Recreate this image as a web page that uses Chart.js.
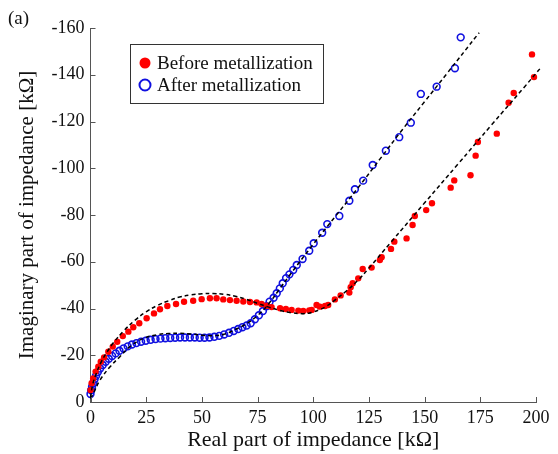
<!DOCTYPE html>
<html>
<head>
<meta charset="utf-8">
<script src="https://cdn.jsdelivr.net/npm/chart.js@4.4.1/dist/chart.umd.min.js"></script>
<style>
  body { margin: 0; background: #fff; }
  #wrap { width: 558px; height: 454px; position: relative; }
</style>
</head>
<body>
<div id="wrap"><canvas id="nyquist"></canvas></div>
<script>
// Nyquist plot, impedance in kOhm (y stored as -Z'' so it grows upward)
const beforeX = [0, 0.5, 1.2, 2.3, 3.5, 4.6, 6.1, 8, 10, 12, 14.5, 17, 19.2, 21.9, 25.2, 28.5, 31.2, 34.5, 38.4, 42,
  46.1, 49.9, 53.6, 56.6, 59.6, 62.6, 65.6, 68.6, 71.6, 74.6, 76.8, 79.1, 81.3, 85.1, 87.7, 90.3, 93.3, 95.5, 98.2, 99.3,
  101.5, 103, 105.3, 106.7, 109.7, 112.3, 116.2, 116.8, 117.7, 120.2, 122.2, 126.2, 129.9, 130.7, 134.9, 136.4, 141.9, 144.6, 145.6, 150.7,
  153.3, 161.7, 163.3, 170.6, 172.9, 173.9, 182.4, 187.7, 190, 199.1, 198.2];
const beforeY = [5.1, 8, 10.1, 13, 15.1, 17.2, 19.1, 21.5, 23.7, 25.8, 28.2, 30.1, 32, 33.7, 35.8, 37.9, 39.7, 41.1, 41.9, 42.9,
  43.3, 44, 44.4, 44.4, 43.9, 43.6, 43.3, 43, 42.8, 42.6, 41.9, 41.2, 40.6, 40.1, 39.8, 39.4, 39.1, 38.9, 39.2, 39.4,
  41.5, 40.8, 41.1, 41.5, 43.9, 45.6, 46.8, 49.1, 50.8, 52.9, 56.9, 57.5, 60.7, 61.9, 65.5, 68.6, 70, 75.7, 79.6, 82.1,
  85, 91.7, 94.8, 97, 105.4, 111.2, 114.8, 128, 132.2, 139, 148.7];

const afterX = [0, 0.3, 0.7, 1.2, 1.8, 2.5, 3.3, 4.3, 5.5, 6.8, 8.2, 9.7, 11.3, 13, 14.8, 16.7, 18.6, 20.6, 22.7, 24.8,
  27, 29.2, 31.4, 33.6, 35.8, 38, 40.2, 42.4, 44.6, 46.8, 49, 51.2, 53.4, 55.6, 57.8, 60, 62.2, 64.3, 66.3, 68.2,
  70.1, 71.9, 73.8, 75.6, 77.4, 79, 80.4, 82.2, 83.6, 85, 86.3, 87.8, 89.3, 91, 92.6, 95.2, 98.2, 100.2, 104, 106.3,
  111.7, 116.2, 118.7, 122.4, 126.7, 132.6, 138.6, 143.8, 148.3, 155.4, 163.6, 166.2];
const afterY = [3.4, 5, 6.5, 8, 9.6, 11.2, 12.8, 14.3, 15.8, 17.2, 18.5, 19.7, 20.8, 21.9, 22.9, 23.8, 24.6, 25.2, 25.8, 26.2,
  26.6, 26.9, 27.1, 27.3, 27.4, 27.5, 27.6, 27.6, 27.6, 27.6, 27.5, 27.5, 27.6, 27.9, 28.3, 28.9, 29.6, 30.4, 31.2, 32,
  32.7, 33.7, 35.4, 37.1, 38.9, 41, 42.9, 44.6, 46.5, 48.6, 50.8, 53, 54.6, 56.5, 58.6, 61.2, 64.7, 67.9, 72.4, 76.1,
  79.6, 86.1, 91, 94.7, 101.4, 107.5, 113.3, 119.5, 131.8, 134.9, 142.8, 156];

// fitted curves (dashed)
const beforeFitX = [0, 1, 2.5, 5, 7.5, 10, 15, 20, 25, 30, 35, 40, 45, 50, 55, 60, 65, 70, 75, 80,
  85, 90, 95, 98, 100, 103, 106, 110, 115, 120, 125, 135, 150, 165, 180, 195, 202.5];
const beforeFitY = [2, 7.5, 12, 17.5, 21.5, 25, 30.5, 35, 38.6, 41.3, 43.3, 44.9, 45.8, 46.3, 46.4, 46.1, 45.2, 43.9, 42.2, 40.6,
  39.2, 38.2, 37.8, 38, 38.5, 39.6, 41, 43.8, 47.6, 52, 57.3, 68.5, 85.2, 101.8, 118.5, 135, 143.4];
const afterFitX = [0, 1.3, 4.3, 8.8, 13.2, 17.7, 23.7, 30, 35, 40, 45, 50, 55, 60, 65, 70, 75, 80, 85, 90,
  100, 110, 120, 130, 140, 150, 160, 174.5];
const afterFitY = [1.5, 3.7, 9.4, 15.1, 19.4, 23.7, 27.2, 28.8, 29.3, 29.4, 29.1, 28.6, 28.4, 29, 31, 33.5, 37, 42, 48.5, 55,
  67.5, 79.5, 91.5, 104, 116.5, 128.5, 140.5, 158];

const seriesNames = ['Before metallization', 'After metallization'];

const pts = (xs, ys) => xs.map((x, i) => ({ x: x, y: ys[i] }));

// short tick marks pointing into the plot, as in the original figure
const insideTicks = {
  id: 'insideTicks',
  afterDatasetsDraw(chart) {
    const ctx = chart.ctx, a = chart.chartArea;
    const xs = chart.scales.x, ys = chart.scales.y;
    ctx.save();
    ctx.strokeStyle = '#555';
    ctx.lineWidth = 1;
    ctx.beginPath();
    xs.ticks.forEach(t => {
      const px = Math.round(xs.getPixelForValue(t.value)) + 0.5;
      ctx.moveTo(px, a.bottom);
      ctx.lineTo(px, a.bottom - 5);
    });
    ys.ticks.forEach(t => {
      const py = Math.round(ys.getPixelForValue(t.value)) + 0.5;
      ctx.moveTo(a.left, py);
      ctx.lineTo(a.left + 5, py);
    });
    ctx.stroke();
    ctx.restore();
  }
};

// boxed legend inside the plot + panel letter
const boxLegend = {
  id: 'boxLegend',
  afterDraw(chart) {
    const ctx = chart.ctx;
    const ds = chart.data.datasets;
    ctx.save();
    ctx.fillStyle = '#fff';
    ctx.fillRect(130, 44, 193, 59);
    ctx.strokeStyle = '#333';
    ctx.lineWidth = 1;
    ctx.strokeRect(130.5, 44.5, 193, 59);
    ctx.font = '19px "Liberation Serif", "Times New Roman", serif';
    ctx.textBaseline = 'middle';
    const rows = [63, 85];
    [0, 1].forEach(i => {
      const d = ds[i];
      ctx.beginPath();
      ctx.arc(145, rows[i], 5.5, 0, Math.PI * 2);
      if (i === 0) {
        ctx.fillStyle = d.backgroundColor;
        ctx.fill();
      } else {
        ctx.strokeStyle = d.borderColor;
        ctx.lineWidth = 2;
        ctx.stroke();
      }
      ctx.fillStyle = '#111';
      ctx.fillText(d.label, 157, rows[i] + 1);
    });
    ctx.font = '19px "Liberation Serif", "Times New Roman", serif';
    ctx.fillText('(a)', 8, 19);
    ctx.restore();
  }
};

new Chart(document.getElementById('nyquist').getContext('2d'), {
  type: 'scatter',
  data: {
    datasets: [
      {
        label: seriesNames[0],
        data: pts(beforeX, beforeY),
        backgroundColor: '#ff0000',
        borderColor: '#ff0000',
        pointRadius: 3.2,
        borderWidth: 0,
        clip: false,
        order: 2
      },
      {
        label: seriesNames[1],
        data: pts(afterX, afterY),
        backgroundColor: 'rgba(0,0,0,0)',
        borderColor: '#1010e0',
        pointRadius: 3.4,
        borderWidth: 1.6,
        clip: false,
        order: 3
      },
      {
        label: 'fit before',
        data: pts(beforeFitX, beforeFitY),
        showLine: true,
        borderColor: '#000',
        borderWidth: 1.5,
        borderDash: [4, 3],
        pointRadius: 0,
        tension: 0.4,
        clip: false,
        order: 1
      },
      {
        label: 'fit after',
        data: pts(afterFitX, afterFitY),
        showLine: true,
        borderColor: '#000',
        borderWidth: 1.5,
        borderDash: [4, 3],
        pointRadius: 0,
        tension: 0.4,
        clip: false,
        order: 1
      }
    ]
  },
  options: {
    responsive: true,
    maintainAspectRatio: false,
    animation: false,
    layout: { padding: { left: 0, top: 28, right: 22, bottom: 0 } },
    plugins: {
      legend: { display: false },
      tooltip: { enabled: false }
    },
    scales: {
      x: {
        type: 'linear',
        min: 0,
        max: 200,
        afterFit: s => { s.height = 52; },
        grid: { display: false, drawTicks: false },
        border: { display: true, color: '#555', width: 1 },
        ticks: {
          stepSize: 25,
          padding: 5,
          color: '#111',
          font: { family: '"Liberation Serif", "Times New Roman", serif', size: 18 }
        },
        title: {
          display: true,
          text: 'Real part of impedance [kΩ]',
          color: '#111',
          padding: { top: 0, bottom: 1 },
          font: { family: '"Liberation Serif", "Times New Roman", serif', size: 22 }
        }
      },
      y: {
        type: 'linear',
        min: 0,
        max: 160,
        afterFit: s => { s.width = 90.5; },
        grid: { display: false, drawTicks: false },
        border: { display: true, color: '#555', width: 1 },
        ticks: {
          stepSize: 20,
          padding: 6,
          color: '#111',
          font: { family: '"Liberation Serif", "Times New Roman", serif', size: 18 },
          callback: v => (v === 0 ? '0' : '-' + v)
        },
        title: {
          display: true,
          text: 'Imaginary part of impedance [kΩ]',
          color: '#111',
          padding: { top: 15, bottom: 0 },
          font: { family: '"Liberation Serif", "Times New Roman", serif', size: 21 }
        }
      }
    }
  },
  plugins: [insideTicks, boxLegend]
});
</script>
</body>
</html>
